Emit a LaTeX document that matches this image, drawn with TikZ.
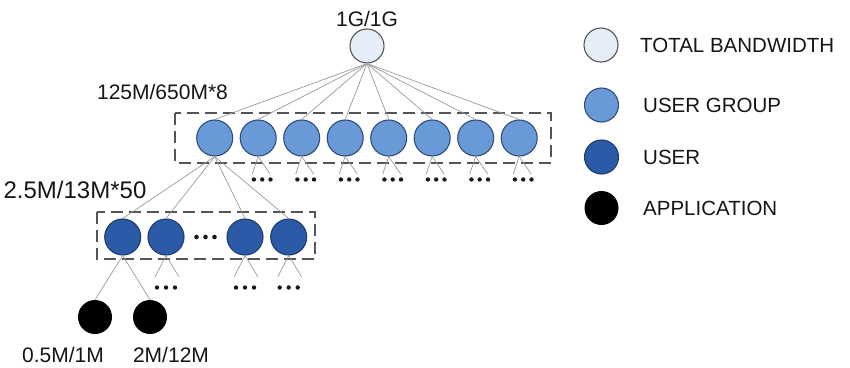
\documentclass[tikz,border=0pt]{standalone}
\usepackage{fontspec}
\setmainfont{Liberation Sans}
\definecolor{rootfill}{HTML}{E4EDF8}
\definecolor{rootdraw}{HTML}{555555}
\definecolor{grpfill}{HTML}{6A99D8}
\definecolor{grpdraw}{HTML}{2F4E78}
\definecolor{usrfill}{HTML}{2B5BA6}
\definecolor{usrdraw}{HTML}{1E3D6C}
\definecolor{linkgray}{HTML}{9A9A9A}
\definecolor{boxgray}{HTML}{555555}
\definecolor{txt}{HTML}{151515}
\tikzset{
  rootnode/.style={circle, draw=rootdraw, fill=rootfill, line width=1.1pt, minimum size=34pt, inner sep=0pt},
  grpnode/.style={circle, draw=grpdraw, fill=grpfill, line width=1.1pt, minimum size=36pt, inner sep=0pt},
  usrnode/.style={circle, draw=usrdraw, fill=usrfill, line width=1.1pt, minimum size=36pt, inner sep=0pt},
  appnode/.style={circle, fill=black, minimum size=34pt, inner sep=0pt},
  link/.style={draw=linkgray, line width=0.7pt},
  groupbox/.style={draw=boxgray, line width=1.8pt, dash pattern=on 12pt off 6pt},
  lbl/.style={font=\fontsize{21}{24}\selectfont, text=txt, inner sep=0pt},
  lbltwo/.style={font=\fontsize{24}{28}\selectfont, text=txt, inner sep=0pt},
  legtxt/.style={font=\fontsize{20.5}{24}\selectfont, text=txt, inner sep=0pt, anchor=west},
  dotfill/.style={fill=black!90}
}
\begin{document}
\begin{tikzpicture}[x=1pt,y=-1pt]
\useasboundingbox (0,0) rectangle (850,367);

% dashed boxes
\draw[groupbox] (175,113) rectangle (551,163);
\draw[groupbox] (97,212) rectangle (315,259);

% root
\node[rootnode] (root) at (367,46) {};
\node[lbl] (rootlbl) at (367,19) {1G/1G};

% groups
\foreach \i/\x in {1/214.7,2/258.2,3/301.7,4/345.2,5/388.7,6/432.2,7/475.7,8/519.2}{
  \node[grpnode] (g\i) at (\x,138) {};
}
\foreach \i in {1,...,8}{
  \draw[link] (root.south) -- (g\i.north);
}
\node[lbl] (grplbl) at (162.5,91.5) {125M/650M*8};

% fans and dots under groups 2..8
\foreach \i/\x in {2/258.2,3/301.7,4/345.2,5/388.7,6/432.2,7/475.7,8/519.2}{
  \coordinate (gl\i) at (\x-6,174);
  \coordinate (gr\i) at (\x+12,174);
  \draw[link] (g\i.south) -- (gl\i);
  \draw[link] (g\i.south) -- (gr\i);
  \foreach \d in {-4.3,4,12.3}{
    \fill[dotfill] (\x+\d,179.5) circle (2.2pt);
  }
}

% users
\node[usrnode] (u1) at (122.7,237) {};
\node[usrnode] (u2) at (166,237) {};
\node[usrnode] (u3) at (245,237) {};
\node[usrnode] (u4) at (288.7,237) {};
\foreach \i in {1,...,4}{
  \draw[link] (g1.south) -- (u\i.north);
}
\foreach \d in {-9,0,9}{
  \fill[dotfill] (205.5+\d,237) circle (2.3pt);
}
\node[lbltwo] (usrlbl) at (75,190) {2.5M/13M*50};

% fans under users 2..4
\foreach \i/\x in {2/166,3/245,4/288.7}{
  \coordinate (ul\i) at (\x-11,277);
  \coordinate (ur\i) at (\x+13,277);
  \draw[link] (u\i.south) -- (ul\i);
  \draw[link] (u\i.south) -- (ur\i);
  \foreach \d in {-9,0,9}{
    \fill[dotfill] (\x+\d,287.5) circle (2.2pt);
  }
}

% applications
\node[appnode] (a1) at (95,317) {};
\node[appnode] (a2) at (150,317) {};
\draw[link] (u1.south) -- (a1.north);
\draw[link] (u1.south) -- (a2.north);
\node[lbl] (a1lbl) at (63,355) {0.5M/1M};
\node[lbl] (a2lbl) at (171,355) {2M/12M};

% legend
\node[rootnode] (lg1) at (601,45) {};
\node[grpnode, minimum size=34pt] (lg2) at (601.5,105) {};
\node[usrnode, minimum size=34pt] (lg3) at (601.5,157) {};
\node[appnode] (lg4) at (601.5,208) {};
\node[legtxt] (lt1) at (640,45) {TOTAL BANDWIDTH};
\node[legtxt] (lt2) at (643,105) {USER GROUP};
\node[legtxt] (lt3) at (643,157) {USER};
\node[legtxt] (lt4) at (643,208) {APPLICATION};
\end{tikzpicture}
\end{document}
